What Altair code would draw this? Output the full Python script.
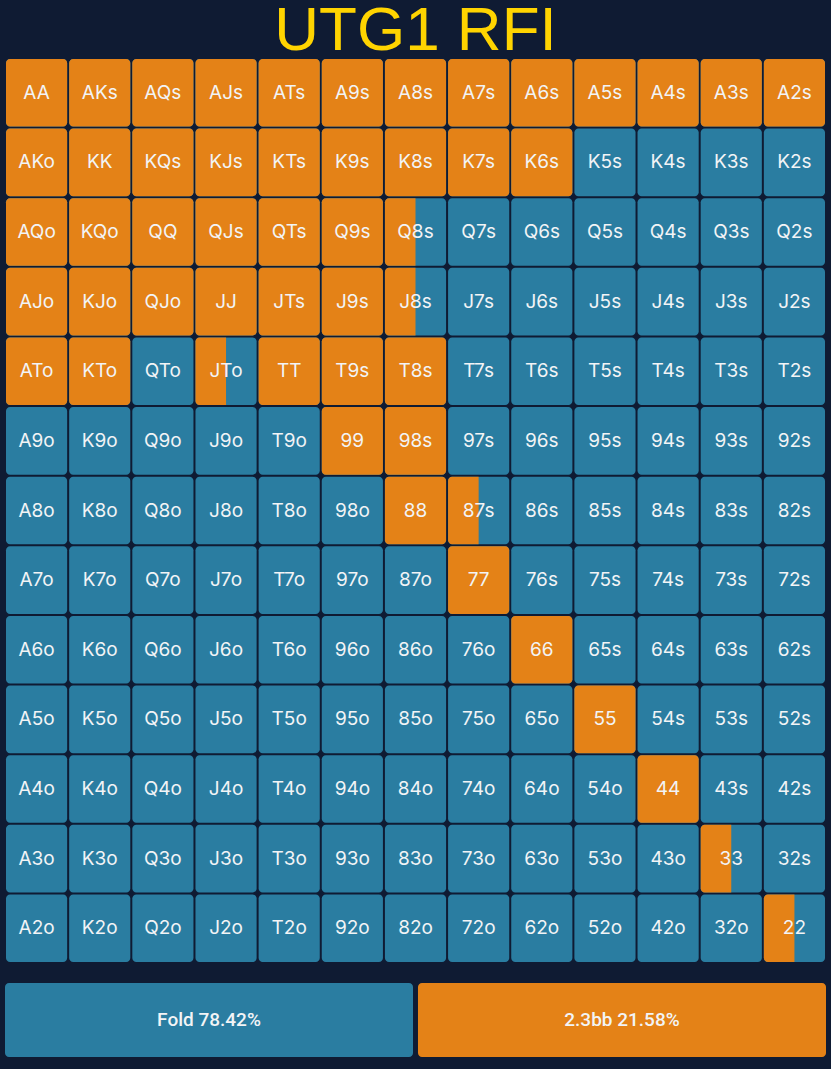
import altair as alt
import pandas as pd

# ---- data -------------------------------------------------------------
ranks = ["A", "K", "Q", "J", "T", "9", "8", "7", "6", "5", "4", "3", "2"]

# raise (2.3bb) frequency for each cell of the 13x13 grid
raise_freq = [
    [1, 1, 1, 1, 1, 1, 1, 1, 1, 1, 1, 1, 1],
    [1, 1, 1, 1, 1, 1, 1, 1, 1, 0, 0, 0, 0],
    [1, 1, 1, 1, 1, 1, 0.5, 0, 0, 0, 0, 0, 0],
    [1, 1, 1, 1, 1, 1, 0.5, 0, 0, 0, 0, 0, 0],
    [1, 1, 0, 0.5, 1, 1, 1, 0, 0, 0, 0, 0, 0],
    [0, 0, 0, 0, 0, 1, 1, 0, 0, 0, 0, 0, 0],
    [0, 0, 0, 0, 0, 0, 1, 0.5, 0, 0, 0, 0, 0],
    [0, 0, 0, 0, 0, 0, 0, 1, 0, 0, 0, 0, 0],
    [0, 0, 0, 0, 0, 0, 0, 0, 1, 0, 0, 0, 0],
    [0, 0, 0, 0, 0, 0, 0, 0, 0, 1, 0, 0, 0],
    [0, 0, 0, 0, 0, 0, 0, 0, 0, 0, 1, 0, 0],
    [0, 0, 0, 0, 0, 0, 0, 0, 0, 0, 0, 0.5, 0],
    [0, 0, 0, 0, 0, 0, 0, 0, 0, 0, 0, 0, 0.5],
]

actions = ["Fold", "2.3bb"]
action_pct = [78.42, 21.58]

title_text = "UTG1 RFI"

BLUE = "#2A7DA1"
ORANGE = "#E48217"
BG = "#0F1B33"
TEXT = "#F2F4F6"

# ---- tables -------------------------------------------------------------
rows = []
for i, ri in enumerate(ranks):
    for j, rj in enumerate(ranks):
        if i == j:
            lab = ri + rj
        elif j > i:
            lab = ri + rj + "s"
        else:
            lab = rj + ri + "o"
        f = raise_freq[i][j]
        rows.append(dict(label=lab, freq=f,
                         x0=j, x1=j + 1, xr=j + f, xc=j + 0.5,
                         y0=i, y1=i + 1, yc=i + 0.5))
df = pd.DataFrame(rows)

bars = pd.DataFrame(dict(
    idx=list(range(len(actions))),
    action=actions,
    label=[f"{a} {p:.2f}%" for a, p in zip(actions, action_pct)],
))

# ---- grid -------------------------------------------------------------
GW, GH = 821, 905
xs = alt.Scale(domain=[0, 13], nice=False, zero=False)
ys = alt.Scale(domain=[0, 13], nice=False, zero=False, reverse=True)

base = alt.Chart(df)

blue = base.mark_rect(color=BLUE, cornerRadius=4, xOffset=1, x2Offset=-1,
                      yOffset=1, y2Offset=-1).encode(
    x=alt.X("x0:Q", scale=xs, axis=None), x2="x1",
    y=alt.Y("y0:Q", scale=ys, axis=None), y2="y1")

orange_full = base.transform_filter("datum.freq >= 1").mark_rect(
    color=ORANGE, cornerRadius=4, xOffset=1, x2Offset=-1,
    yOffset=1, y2Offset=-1).encode(
    x=alt.X("x0:Q", scale=xs, axis=None), x2="x1",
    y=alt.Y("y0:Q", scale=ys, axis=None), y2="y1")

orange_part = base.transform_filter("datum.freq > 0 && datum.freq < 1").mark_rect(
    color=ORANGE, cornerRadiusTopLeft=4, cornerRadiusBottomLeft=4,
    xOffset=1, yOffset=1, y2Offset=-1).encode(
    x=alt.X("x0:Q", scale=xs, axis=None), x2="xr",
    y=alt.Y("y0:Q", scale=ys, axis=None), y2="y1")

labels = base.mark_text(color=TEXT, fontSize=19, font="Inter").encode(
    x=alt.X("xc:Q", scale=xs, axis=None),
    y=alt.Y("yc:Q", scale=ys, axis=None),
    text="label:N")

grid = alt.layer(blue, orange_full, orange_part, labels).properties(width=GW, height=GH)

# ---- summary bars -------------------------------------------------------
bx = alt.Scale(paddingInner=0.012, paddingOuter=0)
bar_rects = alt.Chart(bars).mark_rect(cornerRadius=4).encode(
    x=alt.X("idx:O", scale=bx, axis=None),
    color=alt.Color("action:N", scale=alt.Scale(domain=actions, range=[BLUE, ORANGE]),
                    legend=None))
bar_text = alt.Chart(bars).mark_text(color=TEXT, fontSize=19, font="Roboto",
                                     fontWeight=500).encode(
    x=alt.X("idx:O", scale=bx, axis=None),
    text="label:N")
summary = alt.layer(bar_rects, bar_text).properties(width=GW, height=74)

chart = alt.vconcat(grid, summary, spacing=20).properties(
    title=alt.TitleParams(title_text, fontSize=62, color="#FFD400",
                          font="Liberation Sans", fontWeight="normal",
                          anchor="middle", offset=-5),
    background=BG,
    padding={"left": 5, "top": 0, "right": 5, "bottom": 12},
).configure_view(stroke=None).resolve_scale(x="independent", y="independent")

chart.save("out.html", embed_options={"renderer": "svg", "actions": False})
